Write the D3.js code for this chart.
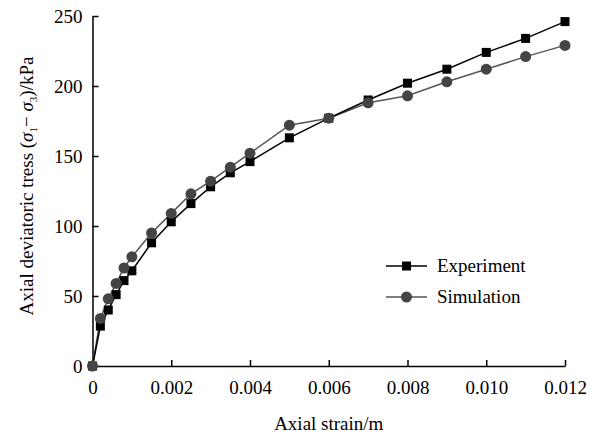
<!DOCTYPE html>
<html>
<head>
<meta charset="utf-8">
<script src="https://cdn.jsdelivr.net/npm/d3@7"></script>
<style>
  body { margin: 0; background: #fff; }
  text { font-family: "Liberation Serif", "DejaVu Serif", serif; }
</style>
</head>
<body>
<div id="chart"></div>
<script>
var strain = [0, 0.0002, 0.0004, 0.0006, 0.0008, 0.001, 0.0015, 0.002, 0.0025, 0.003,
  0.0035, 0.004, 0.005, 0.006, 0.007, 0.008, 0.009, 0.010, 0.011, 0.012];
var experiment = [0, 28.5, 40, 51, 61, 68, 88, 103, 116, 128, 138, 146, 163, 177, 190, 202, 212, 224, 234, 246];
var simulation = [0, 34, 48, 59, 70, 78, 95, 109, 123, 132, 142, 152, 172, 177, 188, 193, 203, 212, 221, 229];
var xTicks = [0, 0.002, 0.004, 0.006, 0.008, 0.010, 0.012];
var yTicks = [0, 50, 100, 150, 200, 250];

var width = 599, height = 434;
var margin = {top: 16, right: 34, bottom: 68, left: 92.5};
var fs = 19;

var svg = d3.select("#chart").append("svg")
  .attr("width", width)
  .attr("height", height);

var x = d3.scaleLinear().domain([0, 0.012]).range([margin.left, width - margin.right]);
var y = d3.scaleLinear().domain([0, 250]).range([height - margin.bottom, margin.top]);

// axes, ticks point inward
var xAxis = svg.append("g")
  .attr("transform", "translate(0," + y(0) + ")")
  .call(d3.axisBottom(x).tickValues(xTicks).tickSizeInner(-6).tickSizeOuter(0)
    .tickFormat(function (d) { return d === 0 ? "0" : d3.format(".3f")(d); }));
xAxis.selectAll("text").attr("y", 28).attr("dy", 0);

var yAxis = svg.append("g")
  .attr("transform", "translate(" + x(0) + ",0)")
  .call(d3.axisLeft(y).tickValues(yTicks).tickSizeInner(-6).tickSizeOuter(0));
yAxis.selectAll("text").attr("x", -10);

svg.selectAll(".domain, .tick line").attr("stroke", "#000").attr("stroke-width", 1.5);
svg.selectAll(".tick text").attr("font-size", fs).attr("fill", "#000")
  .attr("font-family", "Liberation Serif");

svg.append("text")
  .attr("x", (x(0) + x(0.012)) / 2)
  .attr("y", 430)
  .attr("text-anchor", "middle")
  .attr("font-size", fs)
  .text("Axial strain/m");

var yl = svg.append("text")
  .attr("transform", "translate(33,186) rotate(-90)")
  .attr("text-anchor", "middle")
  .attr("font-size", fs);
yl.append("tspan").text("Axial deviatoric tress (");
yl.append("tspan").attr("font-style", "italic").text("σ");
yl.append("tspan").attr("font-size", 11).attr("dy", 4).text("1");
yl.append("tspan").attr("dy", -4).text("− ");
yl.append("tspan").attr("font-style", "italic").text("σ");
yl.append("tspan").attr("font-size", 11).attr("dy", 4).text("3");
yl.append("tspan").attr("dy", -4).text(")/kPa");

var line = d3.line()
  .x(function (d) { return x(d[0]); })
  .y(function (d) { return y(d[1]); });

var expData = strain.map(function (s, i) { return [s, experiment[i]]; });
var simData = strain.map(function (s, i) { return [s, simulation[i]]; });

var simColor = "#444", simLine = "#555";

svg.append("path").datum(simData)
  .attr("d", line).attr("fill", "none").attr("stroke", simLine).attr("stroke-width", 1.5);
svg.append("path").datum(expData)
  .attr("d", line).attr("fill", "none").attr("stroke", "#000").attr("stroke-width", 1.5);

var sq = 9;
svg.selectAll(".exp").data(expData).enter().append("rect")
  .attr("class", "exp")
  .attr("x", function (d) { return x(d[0]) - sq / 2; })
  .attr("y", function (d) { return y(d[1]) - sq / 2; })
  .attr("width", sq).attr("height", sq)
  .attr("fill", "#000");

svg.selectAll(".sim").data(simData).enter().append("circle")
  .attr("class", "sim")
  .attr("cx", function (d) { return x(d[0]); })
  .attr("cy", function (d) { return y(d[1]); })
  .attr("r", 5.5)
  .attr("fill", simColor);

// legend
var legend = svg.append("g").attr("transform", "translate(386,266)");
legend.append("line").attr("x1", 0).attr("x2", 41).attr("y1", 0).attr("y2", 0)
  .attr("stroke", "#000").attr("stroke-width", 1.5);
legend.append("rect").attr("x", 20.5 - sq / 2).attr("y", -sq / 2).attr("width", sq).attr("height", sq).attr("fill", "#000");
legend.append("text").attr("x", 51).attr("y", 6).attr("font-size", fs).text("Experiment");

legend.append("line").attr("x1", 0).attr("x2", 41).attr("y1", 31).attr("y2", 31)
  .attr("stroke", simLine).attr("stroke-width", 1.5);
legend.append("circle").attr("cx", 20.5).attr("cy", 31).attr("r", 5.5).attr("fill", simColor);
legend.append("text").attr("x", 51).attr("y", 37).attr("font-size", fs).text("Simulation");
</script>
</body>
</html>
